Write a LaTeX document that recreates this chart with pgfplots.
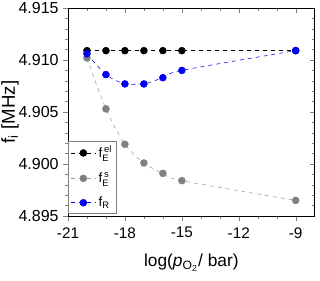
\documentclass[border=0pt]{standalone}
\usepackage{pgfplots}
\pgfplotsset{compat=1.18}
\usepackage{fontspec}
\setmainfont{Liberation Sans}
\definecolor{mgray}{RGB}{128,128,128}
\definecolor{lgray}{RGB}{150,150,150}
\definecolor{mblue}{RGB}{0,0,245}
\pgfplotsset{
  common/.style={
    scale only axis,
    width=185pt, height=156pt,
    xmin=-21, xmax=-8, ymin=4.895, ymax=4.915,
    xtick={-21,-18,-15,-12,-9},
    minor x tick num=2,
    ytick={4.895,4.900,4.905,4.910,4.915},
    minor y tick num=4,
    major tick length=3.5pt, minor tick length=2pt,
    scaled y ticks=false,
  }
}
\begin{document}
\begin{tikzpicture}
\begin{axis}[
  common,
  tick align=inside,
  xtick pos=right, ytick pos=right,
  xticklabels={}, yticklabels={},
]
\end{axis}
\begin{axis}[
  common,
  tick align=outside,
  xtick pos=left, ytick pos=left,
  /pgf/number format/assume math mode=true,
  yticklabel style={/pgf/number format/fixed,/pgf/number format/precision=3,/pgf/number format/fixed zerofill, font=\fontsize{12}{14}\selectfont},
  xticklabel style={font=\fontsize{11.5}{13}\selectfont, yshift=-1.5pt},
  xticklabels={-21,-18,-15,-12,-9},
  xlabel={log($\mathit{p}_{\mathrm{O_2}}$/ bar)},
  ylabel={f$_\mathrm{i}$ [MHz]},
  xlabel style={font=\fontsize{13}{15}\selectfont, yshift=-5pt},
  ylabel style={font=\fontsize{14}{16}\selectfont, yshift=-7pt},
  legend cell align=left,
  legend style={at={(0.002,0.012)}, anchor=south west, draw=gray, font=\fontsize{10}{11}\selectfont, inner sep=1.5pt, row sep=5.5pt},
  legend image code/.code={\draw[#1] (0cm,0cm) -- (0.65cm,0cm); \draw[#1,solid] plot coordinates {(0.325cm,0cm)};},
  every axis plot/.append style={thin, mark=*, mark size=2.6pt},
]
\addplot[black, dashed, mark options={solid, fill=black}] coordinates {
  (-20,4.9109) (-19,4.9109) (-18,4.9109) (-17,4.9109) (-16,4.9109) (-15,4.9109) (-9,4.9109)};
\addlegendentry{f$^{\,\mathrm{el}}_\mathrm{E}$}
\addplot[lgray, dashed, smooth, mark options={solid, draw=mgray, fill=mgray}] coordinates {
  (-20,4.9102) (-19,4.9053) (-18,4.9019) (-17,4.9001) (-16,4.8991) (-15,4.8984) (-9,4.8965)};
\addlegendentry{f$^{\,\mathrm{s}}_\mathrm{E}$}
\addplot[mblue, dashed, smooth, mark options={solid, fill=mblue}] coordinates {
  (-20,4.9106) (-19,4.9086) (-18,4.9077) (-17,4.9077) (-16,4.9083) (-15,4.9090) (-9,4.9109)};
\addlegendentry{f$_\mathrm{R}$}
\end{axis}
\pgfresetboundingbox
\path (current axis.south west) ++(-51pt,-48pt) rectangle ++(240pt,210pt);
\end{tikzpicture}
\end{document}
